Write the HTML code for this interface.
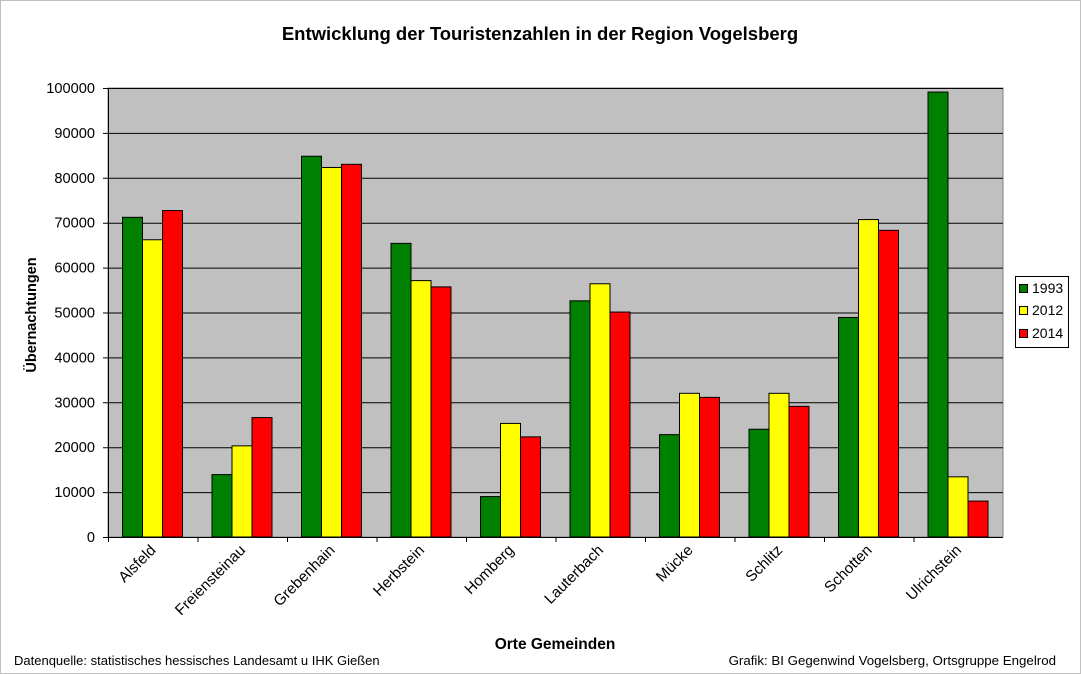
<!DOCTYPE html>
<html><head><meta charset="utf-8"><style>
body{margin:0;background:#fff;}
svg{display:block;font-family:"Liberation Sans",sans-serif;}
</style></head><body>
<svg id="c" width="1081" height="674" viewBox="0 0 1081 674">
<rect x="0.5" y="0.5" width="1080" height="673" fill="#fff" stroke="#c0c0c0"/>
<text x="540" y="40" text-anchor="middle" font-size="18.5" font-weight="bold">Entwicklung der Touristenzahlen in der Region Vogelsberg</text>
<g id="plot"></g>
<text transform="translate(36,315) rotate(-90)" text-anchor="middle" font-size="14.5" font-weight="bold">Übernachtungen</text>
<text x="555" y="649" text-anchor="middle" font-size="15.5" font-weight="bold">Orte  Gemeinden</text>
<text x="14" y="665" font-size="13">Datenquelle: statistisches hessisches Landesamt u IHK Gießen</text>
<text x="1056" y="665" text-anchor="end" font-size="13.3">Grafik: BI Gegenwind Vogelsberg, Ortsgruppe Engelrod</text>
<g>
<rect x="1015.5" y="276.5" width="53" height="71" fill="#fff" stroke="#000"/>
<rect x="1019.5" y="284.5" width="8" height="8" fill="#008000" stroke="#000"/><text x="1032" y="293" font-size="14">1993</text>
<rect x="1019.5" y="306.5" width="8" height="8" fill="#ffff00" stroke="#000"/><text x="1032" y="315" font-size="14">2012</text>
<rect x="1019.5" y="329.5" width="8" height="8" fill="#ff0000" stroke="#000"/><text x="1032" y="338" font-size="14">2014</text>
</g>
</svg>
<script>
const categories=["Alsfeld","Freiensteinau","Grebenhain","Herbstein","Homberg","Lauterbach","Mücke","Schlitz","Schotten","Ulrichstein"];
const s1993=[71200,13900,84800,65400,9000,52600,22800,24000,48900,99100];
const s2012=[66200,20300,82300,57100,25300,56400,32000,32000,70700,13400];
const s2014=[72700,26600,83000,55700,22300,50100,31100,29100,68300,8000];
const yTicks=[0,10000,20000,30000,40000,50000,60000,70000,80000,90000,100000];
const L=108,R=1003,T=88,B=537,ymax=100000;
const y=v=>B-(v/ymax)*(B-T);
const gw=(R-L)/categories.length;
const NS="http://www.w3.org/2000/svg";
const g=document.getElementById('plot');
function mk(t,a,p){const e=document.createElementNS(NS,t);for(const k in a)e.setAttribute(k,a[k]);(p||g).appendChild(e);return e;}
const bg=mk('rect',{x:L,y:T,width:R-L,height:B-T,fill:'#c0c0c0',stroke:'#808080'});


yTicks.forEach(v=>{
 const ln=mk('line',{x1:L-5,x2:R,y1:y(v)+0.5,y2:y(v)+0.5,stroke:'#000'});
 
 
 const t=mk('text',{x:L-13,y:y(v)+5,'text-anchor':'end','font-size':14.6});
 t.textContent=v;
 
 
});
mk('line',{x1:L+0.5,x2:L+0.5,y1:T,y2:B,stroke:'#000'});
const series=[[s1993,'#008000','1993'],[s2012,'#ffff00','2012'],[s2014,'#ff0000','2014']];
categories.forEach((c,i)=>{
 const x0=L+i*gw+14.5;
 series.forEach((s,j)=>{
  const v=s[0][i];
  const r=mk('rect',{x:x0+j*20,y:y(v),width:20,height:B-y(v),fill:s[1],stroke:'#000'});
  
  
 });
 mk('line',{x1:L+i*gw+0.5,x2:L+i*gw+0.5,y1:B,y2:B+5,stroke:'#000'});
 const cx=L+(i+0.5)*gw+4;
 const t=mk('text',{x:cx,y:B+14,'text-anchor':'end','font-size':15.2,transform:`rotate(-45 ${cx} ${B+14})`});
 t.textContent=c;
 
 
});
mk('line',{x1:L,x2:R,y1:B+0.5,y2:B+0.5,stroke:'#000'});
</script>
</body></html>
